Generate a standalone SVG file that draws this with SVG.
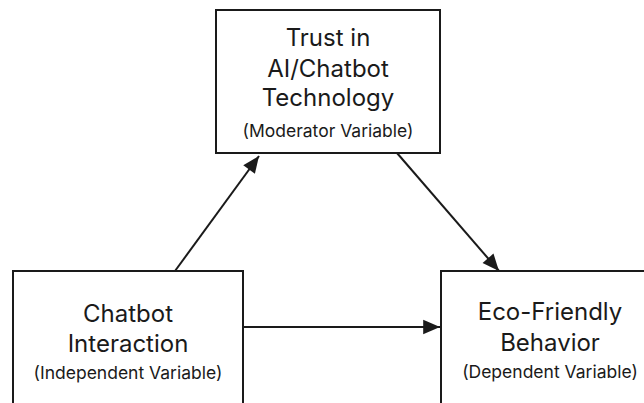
<svg xmlns="http://www.w3.org/2000/svg" width="644" height="403" viewBox="0 0 644 403">
<style>
.box{fill:#fff;stroke:#1a1a1a;stroke-width:2}
.t{font-family:Inter,"Liberation Sans",sans-serif;font-size:24px;fill:#1a1a1a;text-anchor:middle}
.s{font-family:Inter,"Liberation Sans",sans-serif;font-size:17.5px;fill:#1a1a1a;text-anchor:middle}
.c{stroke:#1a1a1a;stroke-width:2;fill:none;marker-end:url(#ah)}
</style>
<defs>
<marker id="ah" viewBox="0 0 10 10" refX="10" refY="5" markerWidth="14" markerHeight="12" orient="auto" markerUnits="userSpaceOnUse" overflow="visible">
<path d="M-4,-1 L10,5 L-4,11 z" fill="#1a1a1a"/>
</marker>
</defs>
<rect width="644" height="403" fill="#fff"/>
<g id="connectors">
<line class="c" x1="175" y1="271" x2="259" y2="156"/>
<line class="c" x1="397" y1="153" x2="499" y2="271"/>
<line class="c" x1="243" y1="327" x2="440" y2="327"/>
</g>
<g id="trust">
<rect class="box" x="216" y="10" width="224" height="143"/>
<text class="t" x="328" y="46">Trust in</text>
<text class="t" x="328" y="77">AI/Chatbot</text>
<text class="t" x="328" y="106">Technology</text>
<text class="s" x="328" y="137">(Moderator Variable)</text>
</g>
<g id="chatbot">
<rect class="box" x="13" y="271" width="230" height="140"/>
<text class="t" x="128" y="322">Chatbot</text>
<text class="t" x="128" y="352">Interaction</text>
<text class="s" x="128" y="379">(Independent Variable)</text>
</g>
<g id="eco">
<rect class="box" x="441" y="271" width="220" height="140"/>
<text class="t" x="550" y="320">Eco-Friendly</text>
<text class="t" x="550" y="351">Behavior</text>
<text class="s" x="550" y="378">(Dependent Variable)</text>
</g>
</svg>
